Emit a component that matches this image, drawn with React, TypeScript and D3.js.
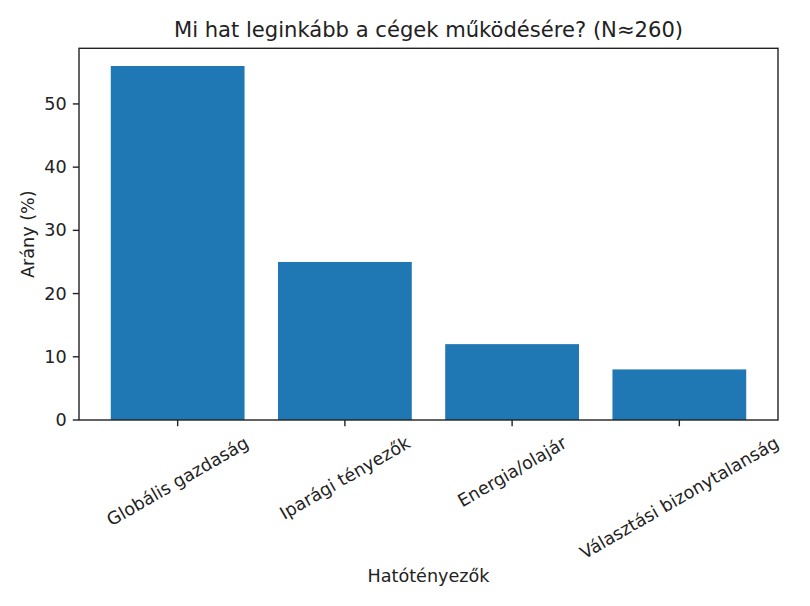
import React, { useEffect, useRef } from "react";
import * as d3 from "d3";

const categories: string[] = ["Globális gazdaság", "Iparági tényezők", "Energia/olajár", "Választási bizonytalanság"];
const values: number[] = [56, 25, 12, 8];
const yTicks: number[] = [0, 10, 20, 30, 40, 50];
const title = "Mi hat leginkább a cégek működésére? (N≈260)";
const xLabel = "Hatótényezők";
const yLabel = "Arány (%)";

const W = 810;
const H = 606;
const FONT = "'DejaVu Sans', sans-serif";
const FS = 17.6;
const TITLE_FS = 21.1;

export default function App() {
  const ref = useRef<SVGSVGElement | null>(null);

  useEffect(() => {
    const svg = d3.select(ref.current);
    svg.selectAll("*").remove();

    const left = 79, right = 778, top = 48.3, bottom = 420;
    const n = categories.length;
    const barW = 0.8;
    const lo = -barW / 2, hi = n - 1 + barW / 2;
    const m = (hi - lo) * 0.05;
    const x = d3.scaleLinear().domain([lo - m, hi + m]).range([left, right]);
    const ymax = (d3.max(values) as number) * 1.05;
    const y = d3.scaleLinear().domain([0, ymax]).range([bottom, top]);

    const g = svg.append("g");

    // bars
    g.selectAll("rect.bar")
      .data(values)
      .enter()
      .append("rect")
      .attr("class", "bar")
      .attr("x", (_d, i) => x(i - barW / 2))
      .attr("width", (_d, i) => x(i + barW / 2) - x(i - barW / 2))
      .attr("y", (d) => y(d))
      .attr("height", (d) => y(0) - y(d))
      .attr("fill", "#1f77b4");

    // frame
    g.append("rect")
      .attr("x", left)
      .attr("y", top)
      .attr("width", right - left)
      .attr("height", bottom - top)
      .attr("fill", "none")
      .attr("stroke", "#222")
      .attr("stroke-width", 1.4);

    const tickLen = 6.2;
    // y ticks
    yTicks.forEach((t) => {
      g.append("line")
        .attr("x1", left - tickLen)
        .attr("x2", left)
        .attr("y1", y(t))
        .attr("y2", y(t))
        .attr("stroke", "#222")
        .attr("stroke-width", 1.4);
      g.append("text")
        .attr("x", left - tickLen - 6.2)
        .attr("y", y(t))
        .attr("text-anchor", "end")
        .attr("dominant-baseline", "central")
        .attr("font-family", FONT)
        .attr("font-size", FS)
        .attr("fill", "#222")
        .text(String(t));
    });

    // x ticks + rotated labels
    const labelTop = bottom + tickLen + 6.2;
    const h = FS * 1.16;
    const rad = (30 * Math.PI) / 180;
    categories.forEach((c, i) => {
      const tx = x(i);
      g.append("line")
        .attr("x1", tx)
        .attr("x2", tx)
        .attr("y1", bottom)
        .attr("y2", bottom + tickLen)
        .attr("stroke", "#222")
        .attr("stroke-width", 1.4);
      const t = g
        .append("text")
        .attr("text-anchor", "middle")
        .attr("dominant-baseline", "central")
        .attr("font-family", FONT)
        .attr("font-size", FS)
        .attr("fill", "#222")
        .text(c);
      const w = (t.node() as SVGTextElement).getComputedTextLength();
      const bh = w * Math.sin(rad) + h * Math.cos(rad);
      const cy = labelTop + bh / 2;
      t.attr("x", tx).attr("y", cy).attr("transform", `rotate(-30, ${tx}, ${cy})`);
    });

    // axis labels
    g.append("text")
      .attr("x", (left + right) / 2)
      .attr("y", 576)
      .attr("text-anchor", "middle")
      .attr("dominant-baseline", "central")
      .attr("font-family", FONT)
      .attr("font-size", FS)
      .attr("fill", "#222")
      .text(xLabel);

    const ylx = 28;
    const yly = (top + bottom) / 2;
    g.append("text")
      .attr("x", ylx)
      .attr("y", yly)
      .attr("text-anchor", "middle")
      .attr("dominant-baseline", "central")
      .attr("font-family", FONT)
      .attr("font-size", FS)
      .attr("fill", "#222")
      .attr("transform", `rotate(-90, ${ylx}, ${yly})`)
      .text(yLabel);

    // title
    g.append("text")
      .attr("x", (left + right) / 2)
      .attr("y", 37)
      .attr("text-anchor", "middle")
      .attr("font-family", FONT)
      .attr("font-size", TITLE_FS)
      .attr("fill", "#222")
      .text(title);
  }, []);

  return (
    <svg
      ref={ref}
      width={W}
      height={H}
      style={{ position: "absolute", left: 0, top: 0, background: "#fff" }}
    />
  );
}
